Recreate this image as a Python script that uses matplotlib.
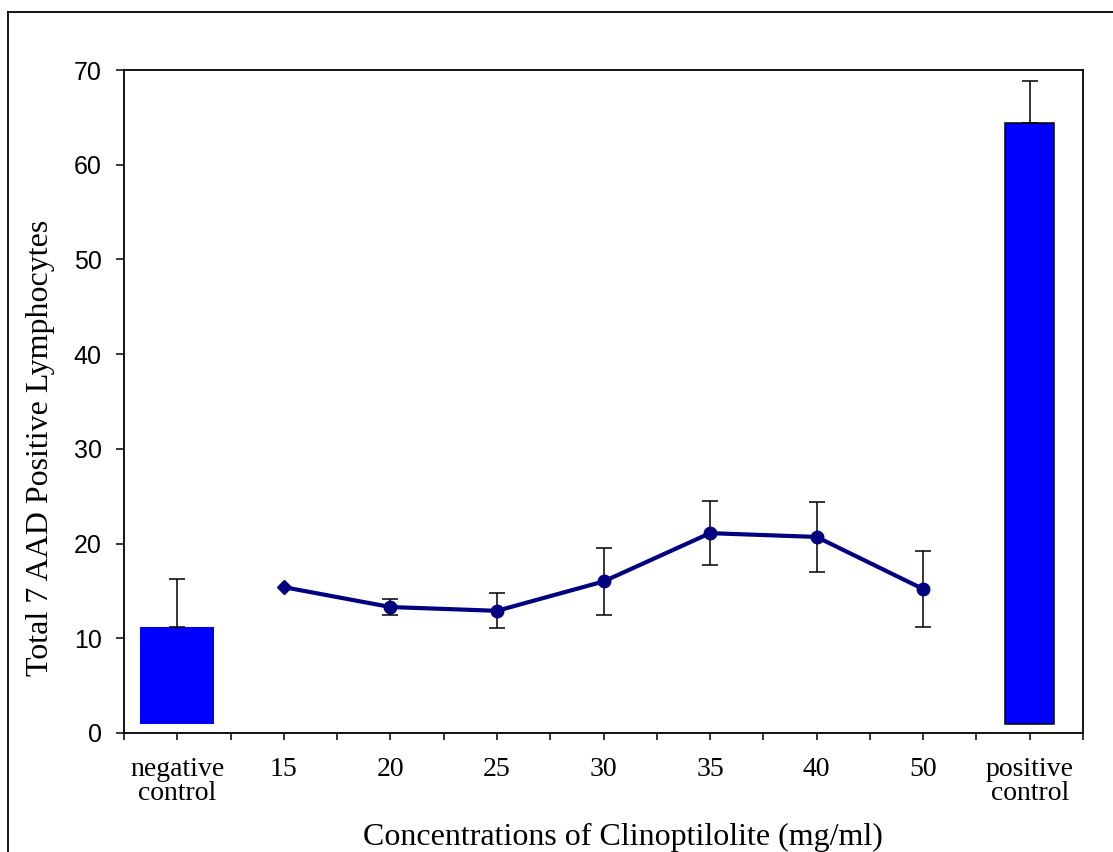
import matplotlib
matplotlib.use("Agg")
import matplotlib.pyplot as plt
from matplotlib.lines import Line2D

# ---- data ----
categories = ['negative\ncontrol', '15', '20', '25', '30', '35', '40', '50', 'positive\ncontrol']
control_labels = ['negative\ncontrol', 'positive\ncontrol']
control_means = [11.2, 64.4]
control_errs = [5.1, 4.4]
conc_labels = ['15', '20', '25', '30', '35', '40', '50']
conc_means = [15.4, 13.3, 12.9, 16.0, 21.1, 20.7, 15.2]
conc_errs = [0.0, 0.8, 1.85, 3.5, 3.35, 3.65, 4.05]
y_ticks = [0, 10, 20, 30, 40, 50, 60, 70]

W, H = 1113, 852
fig = plt.figure(figsize=(W / 100, H / 100), dpi=100)
ax = fig.add_axes([124 / W, 1 - 733 / H, (1083 - 124) / W, (733 - 70) / H])

pos = {c: 2 * i + 1 for i, c in enumerate(categories)}
bar_base = 1.0

# negative control bar (no edge)
xn = pos[control_labels[0]]
ax.bar(xn, control_means[0] - bar_base, bottom=bar_base, width=1.39,
       color='#0000FF', edgecolor='none', zorder=2)
ax.errorbar(xn, control_means[0], yerr=[[0], [control_errs[0]]], fmt='none',
            ecolor='black', elinewidth=1.1, capsize=6, capthick=1.1, zorder=3)

# positive control bar (black edge)
xp = pos[control_labels[1]]
ax.bar(xp, control_means[1] - bar_base, bottom=bar_base, width=0.92,
       color='#0000FF', edgecolor='black', linewidth=1.1, zorder=2)
ax.errorbar(xp, control_means[1], yerr=[[0], [control_errs[1]]], fmt='none',
            ecolor='black', elinewidth=1.1, capsize=6, capthick=1.1, zorder=3)

# concentration series
xs = [pos[c] for c in conc_labels]
ax.errorbar(xs[1:], conc_means[1:], yerr=conc_errs[1:], fmt='none',
            ecolor='black', elinewidth=1.1, capsize=5.5, capthick=1.1, zorder=3)
ax.plot(xs, conc_means, color='#000080', linewidth=3.0, zorder=4)
ax.plot(xs[:1], conc_means[:1], linestyle='none', marker='D', markersize=7.5,
        color='#000080', zorder=5)
ax.plot(xs[1:], conc_means[1:], linestyle='none', marker='o', markersize=9,
        color='#000080', zorder=5)

# axes
n = 2 * len(categories)
ax.set_xlim(0, n)
ax.set_ylim(0, 70)
ax.tick_params(axis='x', which='both', direction='out', length=5, width=1.1)
ax.tick_params(axis='x', which='major', pad=12, labelsize=20)
ax.tick_params(axis='y', direction='out', length=6, width=1.1, pad=10, labelsize=18)
ax.set_xticks([pos[c] for c in categories])
ax.set_xticks(list(range(0, n + 1, 2)), minor=True)
ax.set_xticklabels(categories, fontfamily='Liberation Serif', fontsize=20, linespacing=0.95)
ax.set_yticks(y_ticks)
ax.set_yticklabels([str(v) for v in y_ticks], fontfamily='Liberation Sans', fontsize=18)
for s in ax.spines.values():
    s.set_linewidth(1.3)

ax.set_xlabel('Concentrations of Clinoptilolite (mg/ml)', fontfamily='Liberation Serif', fontsize=23)
ax.xaxis.set_label_coords(0.52, -0.135)
ax.set_ylabel('Total 7 AAD Positive Lymphocytes', fontfamily='Liberation Serif', fontsize=23)
ax.yaxis.set_label_coords(-0.072, 0.43)

# partial figure border
fig.add_artist(Line2D([8 / W, 8 / W], [0, 1 - 12 / H], transform=fig.transFigure,
                      color='black', linewidth=1.3))
fig.add_artist(Line2D([8 / W, 1], [1 - 12 / H, 1 - 12 / H], transform=fig.transFigure,
                      color='black', linewidth=1.3))

fig.savefig('out.png', dpi=100)
